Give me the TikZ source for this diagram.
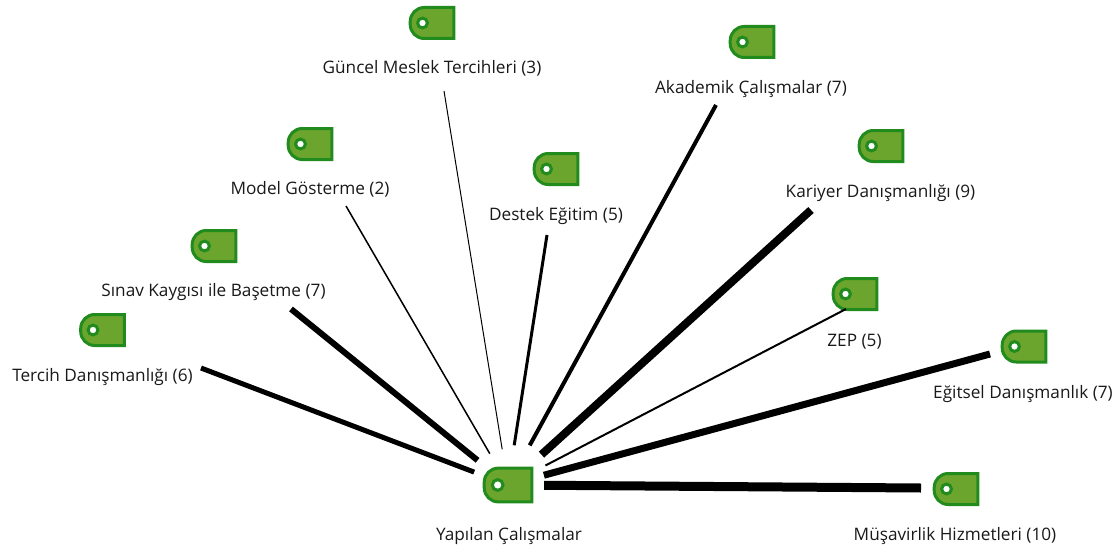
\documentclass[tikz,border=0pt]{standalone}
\usepackage{fontspec}
\setmainfont{Open Sans}
\definecolor{tagfill}{RGB}{107,165,45}
\definecolor{tagline}{RGB}{34,139,30}
\tikzset{
	tagicon/.pic={
		\draw[tagline,fill=tagfill,line width=3pt] (21.8,-15.5) -- (21.8,15.5) [rounded corners=14pt] -- (-21.8,15.5) -- (-21.8,-15.5) [sharp corners] -- cycle;
		\draw[tagline,fill=white,line width=3pt] (-9.5,0) circle (4.9pt);
		\node[minimum width=46pt,minimum height=34pt,inner sep=0pt] (-box) at (0,0) {};
	},
	lbl/.style={font=\fontsize{17.2}{20}\selectfont,text=black!90,inner sep=0pt,anchor=base},
	link/.style={line width=#1,black}
}
\begin{document}
\begin{tikzpicture}[x=1pt,y=-1pt]
			\useasboundingbox (0,0) rectangle (1118,551);
			\node[circle,minimum size=72pt,inner sep=0pt] (hub) at (508,485) {};
			\coordinate (tercihend) at (201,368);
			\coordinate (sinavend) at (291,309);
			\coordinate (modelend) at (346,206);
			\coordinate (guncelend) at (444,91);
			\coordinate (destekend) at (547,235);
			\coordinate (akademikend) at (716,105);
			\coordinate (kariyerend) at (811,210);
			\coordinate (zepend) at (846,309);
			\coordinate (egitselend) at (990,354);
			\coordinate (musavirend) at (921,488);

			\pic (taghub) [scale=1.09] at (508,485) {tagicon};
			\pic (tagguncel) at (432,23) {tagicon};
			\pic (tagmodel) at (310,144) {tagicon};
			\pic (tagsinav) at (214,246) {tagicon};
			\pic (tagtercih) at (102.5,330) {tagicon};
			\pic (tagdestek) at (556,169) {tagicon};
			\pic (tagakademik) at (752,42) {tagicon};
			\pic (tagkariyer) at (881,146) {tagicon};
			\pic (tagzep) at (855,294) {tagicon};
			\pic (tagegitsel) at (1024,346.5) {tagicon};
			\pic (tagmusavir) at (956,489) {tagicon};

			\node[lbl] (hublabel) at (509,540) {Yapılan Çalışmalar};
			\node[lbl] (guncellabel) at (432,74) {Güncel Meslek Tercihleri (3)};
			\node[lbl] (modellabel) at (310,194) {Model Gösterme (2)};
			\node[lbl] (sinavlabel) at (213.5,296) {Sınav Kaygısı ile Başetme (7)};
			\node[lbl] (tercihlabel) at (102.5,381) {Tercih Danışmanlığı (6)};
			\node[lbl] (desteklabel) at (556,220) {Destek Eğitim (5)};
			\node[lbl] (akademiklabel) at (751,93) {Akademik Çalışmalar (7)};
			\node[lbl] (kariyerlabel) at (880.5,197) {Kariyer Danışmanlığı (9)};
			\node[lbl] (zeplabel) at (854.5,346) {ZEP (5)};
			\node[lbl] (egitsellabel) at (1023,398) {Eğitsel Danışmanlık (7)};
			\node[lbl] (musavirlabel) at (955,540) {Müşavirlik Hizmetleri (10)};

			\draw[link=5pt] (hub) -- (tercihend);
			\draw[link=6pt,shorten <=3pt] (hub) -- (sinavend);
			\draw[link=1.5pt] (hub) -- (modelend);
			\draw[link=1pt] (hub) -- (guncelend);
			\draw[link=3pt,shorten <=4pt] (hub) -- (destekend);
			\draw[link=4pt,shorten <=9pt] (hub) -- (akademikend);
			\draw[link=8pt,shorten <=9pt] (hub) -- (kariyerend);
			\draw[link=2pt,shorten <=6pt] (hub) -- (zepend);
			\draw[link=7pt,shorten <=1pt] (hub) -- (egitselend);
			\draw[link=9pt] (hub) -- (musavirend);
		\end{tikzpicture}
\end{document}
